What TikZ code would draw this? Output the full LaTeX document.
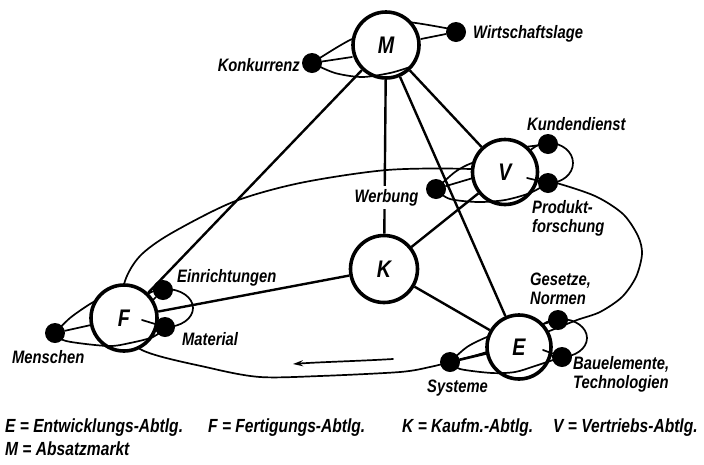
\documentclass[tikz,border=0pt]{standalone}
\usepackage{fontspec}
\newfontfamily\labfont{Liberation Sans}[FakeStretch=0.82]
\usetikzlibrary{arrows.meta}
\pgfdeclarelayer{bg}
\pgfsetlayers{bg,main}
\tikzset{
  hub/.style={circle,draw,line width=3.6pt,fill=white,inner sep=0pt,
    font=\labfont\bfseries\itshape\fontsize{24}{24}\selectfont},
  dotnode/.style={circle,fill=black,inner sep=0pt,minimum size=20pt},
  lab/.style={inner sep=0pt,font=\labfont\bfseries\itshape\fontsize{18}{19}\selectfont},
  legend/.style={inner sep=0pt,font=\labfont\bfseries\itshape\fontsize{19}{19}\selectfont},
  link/.style={line width=2.4pt},
  orbit/.style={line width=1.7pt},
}
\begin{document}
\begin{tikzpicture}[x=1pt,y=-1pt,line join=round,line cap=round]
\useasboundingbox (0,0) rectangle (704,464);
% hubs
\node[hub,minimum size=66pt] (M) at (386,45) {M};
\node[hub,minimum size=65pt] (V) at (505,172) {V};
\node[hub,minimum size=67pt] (K) at (384,269) {K};
\node[hub,minimum size=66pt] (F) at (124,318) {F};
\node[hub,minimum size=64pt] (E) at (519,347) {E};
% dots
\node[dotnode] (dKon) at (312,63) {};
\node[dotnode] (dWir) at (456,32) {};
\node[dotnode] (dKun) at (548,144) {};
\node[dotnode] (dPro) at (548,183) {};
\node[dotnode] (dWer) at (436,189) {};
\node[dotnode] (dEin) at (163,290) {};
\node[dotnode] (dMat) at (165,327) {};
\node[dotnode] (dMen) at (55,333) {};
\node[dotnode] (dGes) at (558,320) {};
\node[dotnode] (dBau) at (562,357) {};
\node[dotnode] (dSys) at (450,362) {};
% labels
\node[lab,anchor=base east] (lKon) at (300,71.5) {Konkurrenz};
\node[lab,anchor=base west] (lWir) at (473,38) {Wirtschaftslage};
\node[lab,anchor=base west] (lKun) at (527,130) {Kundendienst};
\node[lab,anchor=north west,align=left] (lPro) at (532,200) {Produkt-\\forschung};
\node[lab,anchor=base,fill=white,inner sep=3pt] (lWer) at (386.5,202) {Werbung};
\node[lab,anchor=base west] (lEin) at (177,282) {Einrichtungen};
\node[lab,anchor=base west] (lMat) at (182,345) {Material};
\node[lab,anchor=base west] (lMen) at (12,363) {Menschen};
\node[lab,anchor=north west,align=left] (lGes) at (530,273) {Gesetze,\\Normen};
\node[lab,anchor=north west,align=left] (lBau) at (573,356) {Bauelemente,\\Technologien};
\node[lab,anchor=base west] (lSys) at (427,392) {Systeme};
% legend
\node[legend,anchor=base west] (gE) at (5,432) {E = Entwicklungs-Abtlg.};
\node[legend,anchor=base west] (gF) at (208,432) {F = Fertigungs-Abtlg.};
\node[legend,anchor=base west] (gK) at (402,432) {K = Kaufm.-Abtlg.};
\node[legend,anchor=base west] (gV) at (553,432) {V = Vertriebs-Abtlg.};
\node[legend,anchor=base west] (gM) at (5,455) {M = Absatzmarkt};
% background: loops, back arcs, links
\begin{pgfonlayer}{bg}
\draw[orbit] plot[smooth cycle] coordinates {(125,281) (121,315) (140,349) (210,368) (260,377) (320,376) (400,372) (430,367) (450,362) (470,357) (500,348) (530,338) (552,330) (577,320) (600,312) (622,297) (636,277) (642,254) (638,236) (623,214) (595,196) (553,182) (520,175) (470,169) (387,170) (300,183) (233,202) (170,234) (140,256)};
\draw[orbit] (549,163) ellipse [x radius=24pt, y radius=20pt];
\draw[orbit] (166,308) ellipse [x radius=27pt, y radius=19pt];
\draw[orbit] (561,338) ellipse [x radius=26pt, y radius=19pt];
\draw[orbit] plot[smooth] coordinates {(312,63) (350,40) (386,27) (407,22) (456,30)};
\draw[orbit] plot[smooth] coordinates {(436,189) (455,172) (472,163) (495,158)};
\draw[orbit] plot[smooth] coordinates {(55,333) (70,318) (90,304) (110,293)};
\draw[orbit] plot[smooth] coordinates {(450,362) (467,347) (487,337) (505,331)};
\draw[link] (M) -- (F);
\draw[link] (M) -- (K);
\draw[link] (M) -- (V);
\draw[link] (M) -- (E);
\draw[link] (K) -- (F);
\draw[link] (K) -- (V);
\draw[link] (K) -- (E);
\end{pgfonlayer}
% front arcs
\draw[orbit] plot[smooth] coordinates {(312,63) (335,73) (362,77) (390,73) (410,67)};
\draw[orbit] plot[smooth] coordinates {(436,190) (450,199) (478,202) (505,200) (530,193) (548,183)};
\draw[orbit] plot[smooth] coordinates {(55,333) (66,341) (108,346) (130,343) (153,337) (165,328)};
\draw[orbit] plot[smooth] coordinates {(450,362) (460,369) (492,373) (515,372) (535,366) (562,357)};
% spokes
\draw[orbit] (dKon) -- (352,57);
\draw[orbit] (dWir) -- (421,39);
\draw[orbit] (dWer) -- (473,178);
\draw[orbit] (dKun) -- (525,147);
\draw[orbit] (dPro) -- (527,178);
\draw[orbit] (dMen) -- (91,325);
\draw[orbit] (dMat) -- (142,320);
\draw[orbit] (dEin) -- (153,300);
\draw[line width=2.6pt] (dSys) -- (488,353);
\draw[orbit] (dBau) -- (543,350);
\draw[orbit] (dGes) -- (543,324);
% direction arrow
\coordinate (arrS) at (393,359);
\coordinate (arrE) at (293,364);
\draw[orbit,-{Stealth[length=10pt,width=6pt]}] (arrS) .. controls (360,361) and (320,362) .. (arrE);
\end{tikzpicture}
\end{document}
